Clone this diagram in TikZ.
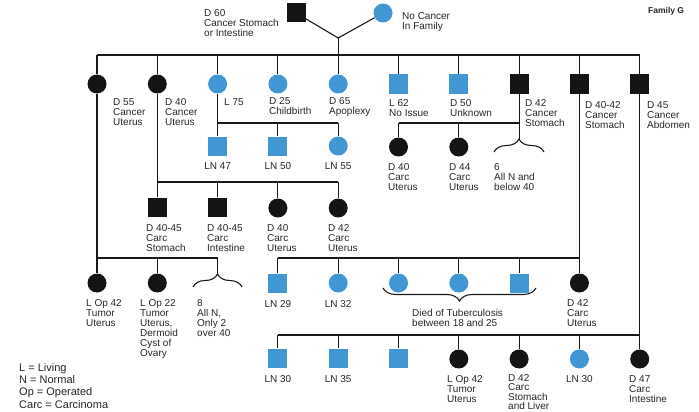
\documentclass[tikz,border=0pt]{standalone}
\usepackage{fontspec}
\setmainfont{Liberation Sans}
\usetikzlibrary{decorations.pathreplacing}
\definecolor{pblue}{RGB}{66,150,212}
\begin{document}
\begin{tikzpicture}[x=1pt,y=-1pt,
  ln/.style={line width=1.1pt, draw=black!90},
  per/.style={inner sep=0pt, minimum size=19pt, draw=none},
  msq/.style={per, rectangle},
  fci/.style={per, circle},
  aff/.style={fill=black!92},
  nrm/.style={fill=pblue},
  lab/.style={anchor=north west, align=left, inner sep=0pt, text=black!85, font=\fontsize{10}{10}\selectfont},
  clab/.style={lab, anchor=north, align=center},
  br/.style={ln, decorate, decoration={brace, amplitude=13pt}},
]
\useasboundingbox (0,0) rectangle (699,412);

% ---------- generation 1
\node[msq,aff] (f) at (296,13) {};
\node[fci,nrm] (m) at (383,13) {};
\coordinate (j0) at (338.2,38);
\coordinate (s0) at (338.2,55);
\draw[ln] (f) -- (j0) -- (m);
\draw[ln] (j0) -- (s0);
\node[lab] (lf) at (204,9) {D 60\\Cancer Stomach\\or Intestine};
\node[lab] (lm) at (402,12.5) {No Cancer\\In Family};
\node[anchor=north west, inner sep=0pt, text=black!85, font=\bfseries\fontsize{8.5}{10}\selectfont] (title) at (648,7.5) {Family G};

% ---------- generation 2
\node[fci,aff] (a1) at (97,84) {};
\node[fci,aff] (a2) at (157.3,84) {};
\node[fci,nrm] (a3) at (217.6,84) {};
\node[fci,nrm] (a4) at (277.9,84) {};
\node[fci,nrm] (a5) at (338.2,84) {};
\node[msq,nrm] (a6) at (398.5,84) {};
\node[msq,nrm] (a7) at (458.8,84) {};
\node[msq,aff] (a8) at (519.1,84) {};
\node[msq,aff] (a9) at (579.4,84) {};
\node[msq,aff] (a10) at (639.7,84) {};
\draw[ln] (a1 |- s0) -- (a10 |- s0);
\foreach \i in {1,...,10} \draw[ln] (a\i |- s0) -- (a\i);

\node[lab] at (113,98) {D 55\\Cancer\\Uterus};
\node[lab] at (165,98) {D 40\\Cancer\\Uterus};
\node[lab] at (224,98) {L 75};
\node[lab] at (269,97) {D 25\\Childbirth};
\node[lab] at (329,97) {D 65\\Apoplexy};
\node[lab] at (389,99) {L 62\\No Issue};
\node[lab] at (450,99) {D 50\\Unknown};
\node[lab] at (525,99) {D 42\\Cancer\\Stomach};
\node[lab] at (585,101) {D 40-42\\Cancer\\Stomach};
\node[lab] at (647,101) {D 45\\Cancer\\Abdomen};

% ---------- generation 3: children of L 75
\node[msq,nrm] (b1) at (217.6,146) {};
\node[msq,nrm] (b2) at (277.9,146) {};
\node[fci,nrm] (b3) at (338.2,146) {};
\coordinate (s1) at (217.6,123);
\draw[ln] (a3) -- (s1) -- (b3 |- s1);
\foreach \n in {b1,b2,b3} \draw[ln] (\n |- s1) -- (\n);
\node[clab] at (217.6,162) {LN 47};
\node[clab] at (277.9,162) {LN 50};
\node[clab] at (338.2,162) {LN 55};

% ---------- generation 3: children of D 42 Cancer Stomach
\node[fci,aff] (c1) at (398.5,147) {};
\node[fci,aff] (c2) at (458.8,147) {};
\coordinate (s2) at (519.1,123);
\coordinate (t1) at (519.1,139);
\draw[ln] (a8) -- (t1);
\draw[ln] (c1 |- s2) -- (s2);
\foreach \n in {c1,c2} \draw[ln] (\n |- s2) -- (\n);
\draw[br] (494,152) -- (544,152);
\node[lab] at (388,163) {D 40\\Carc\\Uterus};
\node[lab] at (449,163) {D 44\\Carc\\Uterus};
\node[lab] at (494,163) {6\\All N and\\below 40};

% ---------- generation 3: children of D 40 Cancer Uterus
\node[msq,aff] (d1) at (157.3,207) {};
\node[msq,aff] (d2) at (217.6,207) {};
\node[fci,aff] (d3) at (277.9,208) {};
\node[fci,aff] (d4) at (338.2,208) {};
\coordinate (s3) at (157.3,182);
\draw[ln] (a2) -- (d1);
\draw[ln] (s3) -- (d4 |- s3);
\foreach \n in {d2,d3,d4} \draw[ln] (\n |- s3) -- (\n);
\node[lab] at (146,224) {D 40-45\\Carc\\Stomach};
\node[lab] at (207,224) {D 40-45\\Carc\\Intestine};
\node[lab] at (267,224) {D 40\\Carc\\Uterus};
\node[lab] at (328,224) {D 42\\Carc\\Uterus};

% ---------- generation 4: children of D 55 Cancer Uterus
\node[fci,aff] (e1) at (97,283) {};
\node[fci,aff] (e2) at (157.3,283) {};
\coordinate (s4) at (97,258);
\coordinate (t2) at (217.6,274);
\draw[ln] (a1) -- (e1);
\draw[ln] (s4) -- (t2 |- s4) -- (t2);
\draw[ln] (e2 |- s4) -- (e2);
\draw[br] (193,287) -- (242,287);
\node[lab] at (86,299) {L Op 42\\Tumor\\Uterus};
\node[lab] at (140,299) {L Op 22\\Tumor\\Uterus,\\Dermoid\\Cyst of\\Ovary};
\node[lab] at (197,299) {8\\All N,\\Only 2\\over 40};

% ---------- generation 4: children of D 40-42 Cancer Stomach
\node[msq,nrm] (g1) at (277.9,283) {};
\node[fci,nrm] (g2) at (338.2,283) {};
\node[fci,nrm] (g3) at (398.5,283) {};
\node[fci,nrm] (g4) at (458.8,283) {};
\node[msq,nrm] (g5) at (519.1,283) {};
\node[fci,aff] (g6) at (579.4,283) {};
\coordinate (s5) at (579.4,258);
\draw[ln] (a9) -- (g6);
\draw[ln] (g1 |- s5) -- (s5);
\foreach \n in {g1,g2,g3,g4,g5} \draw[ln] (\n |- s5) -- (\n);
\draw[br] (536,288) -- (383,288);
\node[clab] at (277.9,300) {LN 29};
\node[clab] at (338.2,300) {LN 32};
\node[lab] at (412,309) {Died of Tuberculosis\\between 18 and 25};
\node[lab] at (567,299) {D 42\\Carc\\Uterus};

% ---------- generation 5: children of D 45 Cancer Abdomen
\node[msq,nrm] (h1) at (277.9,358) {};
\node[msq,nrm] (h2) at (338.2,358) {};
\node[msq,nrm] (h3) at (398.5,358) {};
\node[fci,aff] (h4) at (458.8,359) {};
\node[fci,aff] (h5) at (519.1,359) {};
\node[fci,nrm] (h6) at (579.4,359) {};
\node[fci,aff] (h7) at (639.7,359) {};
\coordinate (s6) at (639.7,335);
\draw[ln] (a10) -- (h7);
\draw[ln] (h1 |- s6) -- (s6);
\foreach \n in {h1,h2,h3,h4,h5,h6} \draw[ln] (\n |- s6) -- (\n);
\node[clab] at (277.9,375) {LN 30};
\node[clab] at (338.2,375) {LN 35};
\node[lab] at (447,375) {L Op 42\\Tumor\\Uterus};
\node[lab, font=\fontsize{10}{9.6}\selectfont] at (508,374) {D 42\\Carc\\Stomach\\and Liver};
\node[clab] at (579.4,375) {LN 30};
\node[lab] at (629,375) {D 47\\Carc\\Intestine};

% ---------- legend
\node[lab, font=\fontsize{11}{12.4}\selectfont] (leg) at (19,363) {L = Living\\N = Normal\\Op = Operated\\Carc = Carcinoma};
\end{tikzpicture}
\end{document}
